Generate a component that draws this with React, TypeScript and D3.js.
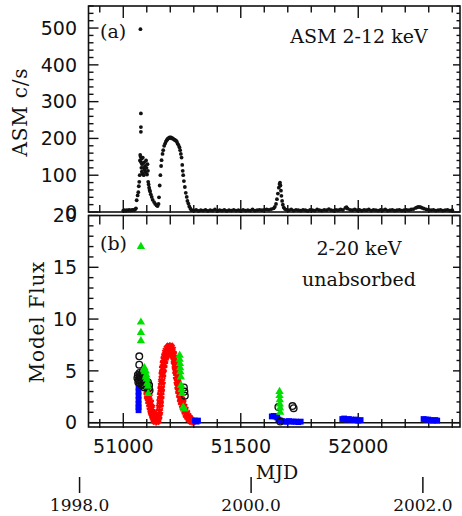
import React from "react";
import * as d3 from "d3";

// ASM 2-12 keV light curve [MJD, c/s]
const asmData: [number, number][] = [
  [51000, 4], [51005, 5], [51010, 3], [51015, 5], [51020, 4], [51025, 6], [51030, 4], [51035, 5], [51040, 6], [51045, 5], [51050, 7], [51054, 10],
  [51057, 32], [51061, 45], [51064, 54], [51066, 70], [51068, 82], [51070, 100], [51071, 140], [51072, 155], [51073, 497], [51075, 268], [51075, 231], [51075, 218],
  [51074, 150], [51076, 135], [51077, 120], [51078, 145], [51079, 110], [51080, 130], [51081, 105], [51083, 148], [51085, 120], [51087, 100], [51089, 135],
  [51091, 115], [51093, 125], [51095, 108], [51097, 140], [51099, 120], [51101, 102], [51103, 130], [51105, 112], [51106, 82], [51108, 75], [51110, 66],
  [51112, 60], [51114, 56], [51117, 48], [51121, 41], [51125, 33], [51131, 27], [51136, 22], [51142, 18], [51146, 16], [51150, 22],
  [51152, 40], [51155, 72], [51158, 100], [51161, 125], [51163, 141], [51167, 158], [51170, 168], [51174, 180], [51178, 186], [51182, 192], [51185, 195],
  [51188, 198], [51191, 200], [51194, 201], [51197, 203], [51200, 202], [51203, 203], [51206, 200], [51209, 201], [51213, 199], [51216, 197], [51220, 196],
  [51224, 194], [51227, 192], [51231, 186], [51235, 182], [51239, 176], [51242, 168], [51245, 158], [51248, 148], [51251, 128], [51253, 112],
  [51255, 100], [51258, 84], [51262, 68], [51266, 52], [51270, 41], [51273, 30], [51277, 23], [51281, 15], [51286, 9], [51291, 5],
  [51300, 4], [51310, 6], [51320, 3], [51330, 5], [51340, 4], [51350, 6], [51360, 3], [51370, 5], [51380, 4], [51390, 7], [51400, 3],
  [51410, 5], [51420, 4], [51430, 6], [51440, 3], [51450, 5], [51460, 4], [51470, 6], [51480, 4], [51490, 5], [51500, 3], [51510, 6],
  [51520, 4], [51530, 5], [51540, 4], [51550, 7], [51560, 4], [51570, 5], [51580, 6], [51590, 5], [51600, 6], [51610, 7], [51620, 6],
  [51630, 8], [51640, 10], [51645, 14], [51650, 22], [51654, 35], [51658, 50], [51662, 66], [51665, 76], [51667, 80], [51669, 72],
  [51671, 58], [51673, 44], [51676, 30], [51679, 20], [51683, 12], [51688, 8], [51695, 6], [51705, 5], [51715, 7], [51725, 4],
  [51735, 6], [51745, 5], [51755, 4], [51765, 6], [51775, 5], [51785, 3], [51795, 6], [51805, 5], [51815, 4], [51825, 7], [51835, 5],
  [51845, 4], [51855, 6], [51865, 5], [51875, 8], [51885, 5], [51895, 4], [51905, 6], [51915, 5], [51925, 7], [51935, 6], [51945, 11],
  [51950, 13], [51955, 9], [51965, 6], [51975, 5], [51985, 7], [51995, 5], [52005, 6], [52015, 4], [52025, 6], [52035, 5], [52045, 7],
  [52055, 4], [52065, 6], [52075, 5], [52085, 4], [52095, 6], [52105, 5], [52115, 7], [52125, 4], [52135, 5], [52145, 6], [52155, 4],
  [52165, 5], [52175, 6], [52185, 4], [52195, 5], [52205, 6], [52215, 5], [52225, 7], [52235, 8], [52245, 11], [52252, 13], [52258, 14],
  [52265, 13], [52272, 11], [52280, 9], [52290, 7], [52300, 6], [52310, 5], [52320, 6], [52330, 4], [52340, 5], [52350, 6], [52360, 4],
  [52370, 5], [52380, 6], [52390, 4], [52400, 5],
];

// Model flux 2-20 keV unabsorbed, per spectral component [MJD, flux]
const redFlux: [number, number][] = [
  [51100, 3.0], [51102, 2.6], [51104, 2.9], [51106, 2.4], [51108, 2.1], [51110, 2.5], [51112, 1.8], [51114, 1.5], [51116, 1.9], [51118, 1.2],
  [51120, 1.0], [51122, 1.4], [51124, 0.8], [51126, 0.6], [51128, 0.9], [51130, 0.4], [51132, 0.3], [51134, 0.6], [51136, 0.2], [51138, 0.4],
  [51140, 0.1], [51142, 0.3], [51144, 0.2], [51146, 0.5], [51148, 0.3], [51150, 0.8], [51152, 0.6], [51153, 1.4], [51155, 1.1], [51156, 2.0],
  [51158, 2.6], [51158, 1.8], [51160, 3.2], [51161, 2.6], [51162, 3.9], [51163, 3.3], [51165, 4.6], [51166, 4.0], [51167, 5.2], [51168, 4.7],
  [51170, 5.7], [51171, 5.2], [51173, 6.1], [51174, 5.6], [51176, 6.4], [51177, 6.0], [51179, 6.7], [51180, 6.3], [51182, 6.9], [51184, 6.5],
  [51186, 7.1], [51188, 6.7], [51190, 7.2], [51192, 6.8], [51194, 7.3], [51196, 7.0], [51198, 7.4], [51200, 7.0], [51202, 7.3], [51204, 6.9],
  [51206, 7.2], [51208, 6.7], [51210, 7.0], [51212, 6.5], [51214, 6.6], [51216, 6.0], [51218, 6.2], [51220, 5.5], [51221, 5.8], [51223, 5.0],
  [51224, 5.3], [51226, 4.5], [51227, 4.8], [51229, 4.0], [51230, 4.3], [51232, 3.5], [51233, 3.8], [51235, 3.1], [51237, 3.3], [51239, 2.7],
  [51241, 2.9], [51243, 2.3], [51245, 2.5], [51247, 2.0], [51249, 2.2], [51252, 1.7], [51254, 1.9], [51257, 1.4], [51259, 1.5], [51262, 1.1],
  [51264, 1.2], [51267, 0.8], [51270, 0.9], [51273, 0.6], [51276, 0.6], [51279, 0.4], [51282, 0.4], [51285, 0.3], [51288, 0.2], [51291, 0.2],
  [51294, 0.1],
];

const blueFlux: [number, number][] = [
  [51065, 3.4], [51065, 3.0], [51065, 2.6], [51065, 2.2], [51065, 1.8], [51065, 1.5], [51065, 1.2],
  [51305, 0.2], [51312, 0.1], [51318, 0.2],
  [51632, 0.6], [51640, 0.65], [51648, 0.6], [51655, 0.5], [51660, 0.3], [51668, 0.2], [51675, 0.15], [51685, 0.1],
  [51695, 0.1], [51705, 0.15], [51715, 0.1], [51725, 0.1], [51735, 0.1], [51745, 0.05], [51755, 0.1],
  [51932, 0.35], [51940, 0.4], [51950, 0.3], [51960, 0.35], [51970, 0.3], [51980, 0.25], [51990, 0.3], [52000, 0.2], [52010, 0.25],
  [52278, 0.35], [52288, 0.3], [52298, 0.3], [52308, 0.25], [52318, 0.2], [52328, 0.25], [52336, 0.2],
];

const blackFlux: [number, number][] = [
  [51060, 4.3], [51062, 4.6], [51064, 3.9], [51066, 4.1], [51068, 6.4], [51068, 5.6], [51069, 4.8], [51070, 4.4], [51071, 3.8], [51072, 4.2],
  [51074, 4.6], [51076, 3.9], [51078, 4.4], [51080, 3.6], [51082, 4.9], [51084, 4.1], [51086, 3.7], [51088, 4.0], [51090, 3.4], [51095, 3.8],
  [51100, 3.5], [51105, 3.9], [51108, 3.3], [51110, 3.6], [51112, 3.1],
  [51258, 3.4], [51260, 3.0], [51262, 2.6],
  [51660, 1.5], [51668, 0.1], [51720, 1.6], [51725, 1.4],
];

const greenFlux: [number, number][] = [
  [51075, 17.0], [51075, 9.7], [51075, 8.7], [51075, 7.9],
  [51088, 5.1], [51090, 5.3], [51092, 4.9], [51095, 5.0], [51096, 4.4], [51098, 4.6], [51100, 4.2], [51102, 3.8], [51105, 3.5], [51106, 2.8],
  [51240, 6.5], [51240, 6.1], [51241, 5.7], [51242, 5.3], [51243, 4.9], [51245, 4.4], [51246, 3.6], [51248, 3.2], [51250, 2.8], [51255, 1.5], [51260, 1.3],
  [51665, 3.0], [51665, 2.6], [51666, 2.2], [51666, 1.8], [51667, 1.4], [51668, 1.0],
];

const mjdMajor = [51000, 51500, 52000];
const yearLabels = ["1998.0", "2000.0", "2002.0"];
const yearMjd = [50814, 51544, 52275];
const topMajor = [0, 100, 200, 300, 400, 500];
const botMajor = [0, 5, 10, 15, 20];

const X0 = 88.5, X1 = 460;
const TOP0 = 6, TOP1 = 212, BOT0 = 215.5, BOT1 = 427;

const x = d3.scaleLinear().domain([50852, 52433]).range([X0, X1]);
const yTop = d3.scaleLinear().domain([0, 560]).range([TOP1, TOP0]);
const yBot = d3.scaleLinear().domain([-0.42, 20]).range([BOT1, BOT0]);

const INK = "#111";
const SANS = "DejaVu Sans, sans-serif";
const SERIF = "DejaVu Serif, serif";

const xMinor = d3.range(50900, 52433, 100);

function asterisk(r: number) {
  const parts: string[] = [];
  for (let k = 0; k < 3; k++) {
    const a = (Math.PI / 3) * k + Math.PI / 2;
    const dx = r * Math.cos(a), dy = r * Math.sin(a);
    parts.push(`M${-dx},${-dy}L${dx},${dy}`);
  }
  parts.push(`M${-r * 0.8},${-r * 0.8}L${r * 0.8},${r * 0.8}M${-r * 0.8},${r * 0.8}L${r * 0.8},${-r * 0.8}`);
  return parts.join("");
}

const triPath = d3.symbol().type(d3.symbolTriangle).size(30)() as string;
const sqPath = d3.symbol().type(d3.symbolSquare).size(34)() as string;
const starPath = asterisk(3.8);

function Panel({ y, y0, y1, major, minorStep, domainMax, bottomXMajor, bottomXMinor, topXMajor, topXMinor }: any) {
  const els: any[] = [];
  els.push(<rect key="frame" x={X0} y={y0} width={X1 - X0} height={y1 - y0} fill="none" stroke={INK} strokeWidth={1.6} />);
  xMinor.forEach((m, i) => {
    const isMaj = mjdMajor.includes(m);
    const px = x(m);
    const lb = isMaj ? bottomXMajor : bottomXMinor;
    const lt = isMaj ? topXMajor : topXMinor;
    els.push(<line key={"xb" + i} x1={px} x2={px} y1={y1 + 1} y2={y1 - lb} stroke={INK} strokeWidth={1.4} />);
    els.push(<line key={"xt" + i} x1={px} x2={px} y1={y0} y2={y0 + lt} stroke={INK} strokeWidth={1.4} />);
  });
  const minors = d3.range(0, domainMax + 0.001, minorStep);
  minors.forEach((v, i) => {
    const isMaj = major.includes(v);
    const py = y(v);
    if (py < y0 - 0.5 || py > y1 + 0.5) return;
    els.push(<line key={"yl" + i} x1={X0} x2={X0 + (isMaj ? 10 : 5)} y1={py} y2={py} stroke={INK} strokeWidth={1.4} />);
    els.push(<line key={"yr" + i} x1={X1} x2={X1 - (isMaj ? 7 : 3.5)} y1={py} y2={py} stroke={INK} strokeWidth={1.4} />);
  });
  major.forEach((v: number, i: number) => {
    els.push(
      <text key={"yt" + i} x={77} y={y(v)} dy="0.36em" textAnchor="end" fontFamily={SANS} fontSize={19} fill={INK}>
        {v}
      </text>
    );
  });
  return <g>{els}</g>;
}

export default function App() {
  return (
    <svg width={462} height={516} style={{ position: "absolute", left: 0, top: 0, background: "#fff" }}>
      <rect x={0} y={0} width={462} height={516} fill="#fff" />
      {/* top panel */}
      <Panel y={yTop} y0={TOP0} y1={TOP1} major={topMajor} minorStep={20} domainMax={560}
        bottomXMajor={12} bottomXMinor={7} topXMajor={12} topXMinor={6.5} />
      {asmData.map((d, i) => (
        <circle key={"a" + i} cx={x(d[0])} cy={yTop(d[1])} r={1.9} fill={INK} />
      ))}

      {/* bottom panel */}
      <Panel y={yBot} y0={BOT0} y1={BOT1} major={botMajor} minorStep={1} domainMax={20}
        bottomXMajor={14} bottomXMinor={8} topXMajor={14} topXMinor={9} />
      <line x1={X0} x2={X1} y1={yBot(0)} y2={yBot(0)} stroke={INK} strokeWidth={1.5} />
      {redFlux.map((d, i) => (
        <path key={"r" + i} d={starPath} transform={`translate(${x(d[0])},${yBot(d[1])})`} stroke="#ff0000" strokeWidth={1.8} fill="none" />
      ))}
      {blueFlux.map((d, i) => (
        <path key={"b" + i} d={sqPath} transform={`translate(${x(d[0])},${yBot(d[1])})`} fill="#0000ff" />
      ))}
      {blackFlux.map((d, i) => (
        <circle key={"k" + i} cx={x(d[0])} cy={yBot(d[1])} r={3.3} fill="none" stroke={INK} strokeWidth={1.4} />
      ))}
      {greenFlux.map((d, i) => (
        <path key={"g" + i} d={triPath} transform={`translate(${x(d[0])},${yBot(d[1])})`} fill="#00e000" />
      ))}

      {/* x tick labels */}
      {mjdMajor.map((m, i) => (
        <text key={"xl" + i} x={x(m)} y={453} textAnchor="middle" fontFamily={SANS} fontSize={19} fill={INK}>{m}</text>
      ))}
      <text x={277} y={479} textAnchor="middle" fontFamily={SERIF} fontSize={19} fill={INK}>MJD</text>

      {/* year axis */}
      {yearMjd.map((m, i) => (
        <g key={"yr" + i}>
          <line x1={x(m)} x2={x(m)} y1={477} y2={493} stroke={INK} strokeWidth={1.5} />
          <text x={x(m)} y={511} textAnchor="middle" fontFamily={SERIF} fontSize={17} fill={INK}>{yearLabels[i]}</text>
        </g>
      ))}

      {/* axis titles */}
      <text transform="translate(27,112) rotate(-90)" textAnchor="middle" fontFamily={SERIF} fontSize={20} letterSpacing={0.8} fill={INK}>ASM c/s</text>
      <text transform="translate(44,322) rotate(-90)" textAnchor="middle" fontFamily={SERIF} fontSize={20} letterSpacing={0.8} fill={INK}>Model Flux</text>

      {/* annotations */}
      <text x={100} y={38} fontFamily={SERIF} fontSize={19} fill={INK}>(a)</text>
      <text x={100} y={250} fontFamily={SERIF} fontSize={19} fill={INK}>(b)</text>
      <text x={359} y={43} textAnchor="middle" fontFamily={SERIF} fontSize={19} fill={INK}>ASM 2-12 keV</text>
      <text x={359} y={255} textAnchor="middle" fontFamily={SERIF} fontSize={19} fill={INK}>2-20 keV</text>
      <text x={359} y={286} textAnchor="middle" fontFamily={SERIF} fontSize={19} fill={INK}>unabsorbed</text>
    </svg>
  );
}
